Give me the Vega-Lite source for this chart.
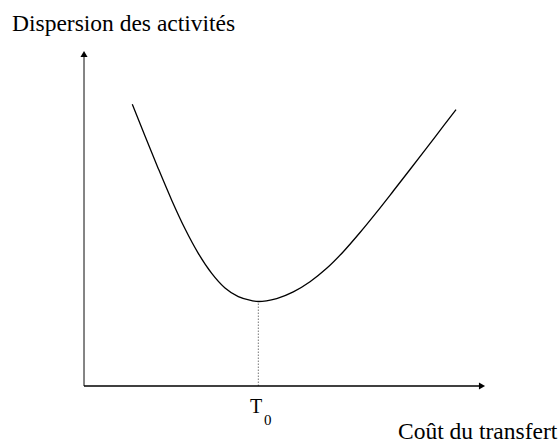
{
  "$schema": "https://vega.github.io/schema/vega-lite/v6.json",
  "width": 560,
  "height": 444,
  "padding": 0,
  "autosize": {"type": "none"},
  "background": "white",
  "config": {"view": {"stroke": null}},
  "datasets": {
    "curve": [
      {"cost": 12.04, "dispersion": 84.09},
      {"cost": 15.21, "dispersion": 74.61},
      {"cost": 18.53, "dispersion": 64.88},
      {"cost": 21.87, "dispersion": 55.48},
      {"cost": 25.19, "dispersion": 46.94},
      {"cost": 28.5, "dispersion": 39.6},
      {"cost": 31.85, "dispersion": 33.6},
      {"cost": 35.16, "dispersion": 29.24},
      {"cost": 38.48, "dispersion": 26.67},
      {"cost": 41.82, "dispersion": 25.49},
      {"cost": 43.47, "dispersion": 25.22},
      {"cost": 45.5, "dispersion": 25.42},
      {"cost": 48.05, "dispersion": 26.1},
      {"cost": 52.19, "dispersion": 28.1},
      {"cost": 56.36, "dispersion": 31.13},
      {"cost": 60.52, "dispersion": 35.13},
      {"cost": 64.66, "dispersion": 40.09},
      {"cost": 68.83, "dispersion": 45.82},
      {"cost": 72.99, "dispersion": 51.91},
      {"cost": 77.13, "dispersion": 58.21},
      {"cost": 81.3, "dispersion": 64.63},
      {"cost": 85.46, "dispersion": 71.1},
      {"cost": 89.6, "dispersion": 77.55},
      {"cost": 92.77, "dispersion": 82.48}
    ],
    "yaxis": [{"cost": 0, "dispersion": 0, "dispersion2": 99}],
    "xaxis": [{"cost": 0, "cost2": 99.3, "dispersion": 0}],
    "yarrow": [{"cost": 0, "dispersion": 99.1}],
    "xarrow": [{"cost": 99.25, "dispersion": 0}],
    "minline": [{"cost": 43.47, "dispersion": 0, "dispersion2": 25.22}],
    "titles": [
      {"cost": -17.96, "dispersion": 105.82, "label": "Dispersion des activités"},
      {"cost": 78.3, "dispersion": -15.67, "label": "Coût du transfert"}
    ],
    "tmain": [{"cost": 41.4, "dispersion": -8.06, "label": "T"}],
    "tsub": [{"cost": 44.9, "dispersion": -11.64, "label": "0"}]
  },
  "encoding": {
    "x": {"field": "cost", "type": "quantitative", "scale": {"domain": [-20.95, 118.7], "nice": false, "zero": false}, "axis": null},
    "y": {"field": "dispersion", "type": "quantitative", "scale": {"domain": [-17.31, 115.22], "nice": false, "zero": false}, "axis": null}
  },
  "layer": [
    {
      "data": {"name": "minline"},
      "mark": {"type": "rule", "color": "#777777", "strokeWidth": 1, "strokeDash": [1.5, 1.5]},
      "encoding": {"y2": {"field": "dispersion2"}}
    },
    {
      "data": {"name": "yaxis"},
      "mark": {"type": "rule", "color": "#333333", "strokeWidth": 1.2},
      "encoding": {"y2": {"field": "dispersion2"}}
    },
    {
      "data": {"name": "xaxis"},
      "mark": {"type": "rule", "color": "black", "strokeWidth": 1.3},
      "encoding": {"x2": {"field": "cost2"}}
    },
    {
      "data": {"name": "yarrow"},
      "mark": {"type": "point", "shape": "triangle-up", "filled": true, "color": "black", "size": 50, "opacity": 1}
    },
    {
      "data": {"name": "xarrow"},
      "mark": {"type": "point", "shape": "triangle-right", "filled": true, "color": "black", "size": 50, "opacity": 1}
    },
    {
      "data": {"name": "curve"},
      "mark": {"type": "line", "color": "black", "strokeWidth": 1.3, "interpolate": "monotone"}
    },
    {
      "data": {"name": "titles"},
      "mark": {"type": "text", "align": "left", "baseline": "alphabetic", "font": "Liberation Serif", "fontSize": 23.5, "color": "black"},
      "encoding": {"text": {"field": "label"}}
    },
    {
      "data": {"name": "tmain"},
      "mark": {"type": "text", "align": "left", "baseline": "alphabetic", "font": "Liberation Serif", "fontSize": 20, "color": "black"},
      "encoding": {"text": {"field": "label"}}
    },
    {
      "data": {"name": "tsub"},
      "mark": {"type": "text", "align": "left", "baseline": "alphabetic", "font": "Liberation Serif", "fontSize": 15, "color": "black"},
      "encoding": {"text": {"field": "label"}}
    }
  ]
}
